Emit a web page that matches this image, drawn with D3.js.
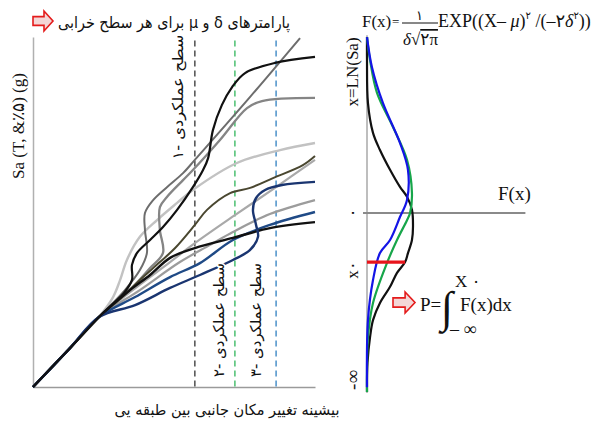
<!DOCTYPE html>
<html>
<head>
<meta charset="utf-8">
<script src="https://cdn.jsdelivr.net/npm/d3@7"></script>
<style>
  body { margin: 0; background: #fff; }
  text { font-family: "Liberation Serif", "DejaVu Sans", serif; fill: #111; }
  .fa { font-family: "DejaVu Sans", sans-serif; }
</style>
</head>
<body>
<svg id="chart" width="597" height="423"></svg>
<script>
// left panel: IDA-like curves, x = max interstory drift (0-100), y = Sa (0-100)
const blackHigh = [[0,0],[13.1,11.1],[23.4,20],[28.7,24],[32.3,26.9],[35.1,30.6],[35.1,34.9],[36.9,38.3],[41.5,42],[46.1,45.7],[51.1,50.6],[56.7,57.1],[60.3,62],[62.1,65.4],[63.8,73.4],[67,80.6],[70.6,85.7],[75.2,89.7],[85.8,92.6],[100,94.3]];
const grayTop = [[0,0],[13.1,11.1],[23.4,20],[32.6,27.7],[37.9,33.4],[40.4,38.3],[39.7,44.9],[39.7,49.7],[42.6,53.4],[47.5,57.1],[53.2,61.1],[57.4,64.9],[77,82.9],[94.7,99.7]];
const grayMid = [[0,0],[13.1,11.1],[23.4,20],[34.4,27.7],[41.5,34],[46.1,38.3],[45,44.9],[45,51.4],[47.5,54.3],[53.2,59.1],[56.7,62],[66.3,70.6],[75.9,79.7],[81.2,81.7],[100,82.6]];
const lightGray = [[0,0],[13.1,11.1],[23.4,20],[28.4,25.7],[30.9,30.6],[33.3,36.3],[37.9,42.9],[44,47.7],[51.1,52.6],[56.7,56.3],[72.3,64],[87.6,67.7],[100,69.7]];
const olive = [[0,0],[13.1,11.1],[23.4,20],[30.5,24.9],[37.9,30.6],[45,35.7],[50.4,39.7],[57.4,46.3],[61.7,50.6],[69.9,55.4],[77,56.9],[85.1,59.7],[95.7,63.4],[100,66]];
const grayUpper = [[0,0],[13.1,11.1],[23.4,20],[34.4,27.1],[48.6,35.7],[57.4,41.1],[71.6,49.1],[85.8,56.9],[100,64.9]];
const grayLow = [[0,0],[13.1,11.1],[23.4,20],[37.9,27.7],[52.1,35.7],[62.8,40.6],[70.9,44.3],[84,49.4],[100,53.4]];
const navyS = [[0,0],[13.1,11.1],[23.4,20],[36.2,23.4],[48.6,28.3],[59.2,32],[70.9,36.3],[76.9,39.1],[79.8,42.9],[79.1,46.3],[78,50.6],[79.1,54],[82.3,56.3],[88.3,57.7],[100,58.6]];
const navyLow = [[0,0],[13.1,11.1],[23.4,20],[36.2,25.7],[48.6,31.4],[59.2,35.4],[70.9,42],[84,46.3],[100,50]];
const blackLow = [[0,0],[13.1,11.1],[23.4,20],[34.4,27.7],[41.5,32],[48.6,36.9],[57.4,39.7],[70.9,42.6],[84,45.4],[100,47.1]];

// performance levels (drift values of the dashed lines)
const levels = [57.4, 71.6, 86.2];
const levelLabels = ["سطح عملکردی -۱", "سطح عملکردی -۲", "سطح عملکردی -۳"];

// right panel: normal densities, [F(x), x]
const bellBlack = [[0,3.91],[0,3.4],[0.006,2.44],[0.0375,1.78],[0.081,1.4],[0.144,0.96],[0.206,0.58],[0.25,0.36],[0.281,0.07],[0.2875,-0.3],[0.281,-0.6],[0.256,-0.89],[0.238,-1.09],[0.1875,-1.33],[0.144,-1.64],[0.081,-2.0],[0.0375,-2.38],[0.019,-2.76],[0.003,-3.33],[0,-3.98]];
const bellGreen = [[0,3.91],[0.019,3.4],[0.0625,2.67],[0.1625,1.91],[0.25,1.18],[0.281,0.44],[0.269,0],[0.25,-0.16],[0.1875,-0.6],[0.125,-1.11],[0.0375,-2.0],[0.006,-2.76],[0,-3.5],[0,-3.98]];
const bellBlue = [[0,3.91],[0.031,3.24],[0.1,2.44],[0.206,1.56],[0.256,0.96],[0.25,0.29],[0.206,-0.09],[0.144,-0.6],[0.081,-0.89],[0.0375,-1.49],[0.006,-2.38],[0,-3.87]];
const x0Value = -1.09, x0Density = 0.238;

const svg = d3.select("#chart");

const x = d3.scaleLinear().domain([0, 100]).range([33, 315]);
const y = d3.scaleLinear().domain([0, 100]).range([387, 37]);

// axes, no ticks
svg.append("g").attr("transform", "translate(0,387)")
  .call(d3.axisBottom(x).tickValues([]).tickSizeOuter(0))
  .select(".domain").attr("stroke", "#9a9a9a").attr("stroke-width", 1.5);
svg.append("g").attr("transform", "translate(33,0)")
  .call(d3.axisLeft(y).tickValues([]).tickSizeOuter(0))
  .select(".domain").attr("stroke", "#b0b0b0").attr("stroke-width", 1.5);

// dashed level lines
const levelColors = ["#333", "#2fb55a", "#2f7fc0"];
svg.selectAll(".level").data(levels).join("line")
  .attr("class", "level")
  .attr("x1", d => x(d)).attr("x2", d => x(d))
  .attr("y1", y(99)).attr("y2", y(0))
  .attr("stroke", (d, i) => levelColors[i])
  .attr("stroke-width", 1.3)
  .attr("stroke-dasharray", "6,4");

const curves = [
  { data: lightGray, color: "#c2c2c2", w: 2.4 },
  { data: grayUpper, color: "#a9a9a9", w: 2.2 },
  { data: grayLow, color: "#9c9c9c", w: 2.2 },
  { data: grayMid, color: "#858585", w: 2.3 },
  { data: grayTop, color: "#6d6d6d", w: 2 },
  { data: olive, color: "#4a4730", w: 2 },
  { data: navyLow, color: "#1f4a86", w: 2.4 },
  { data: blackLow, color: "#111", w: 2.4 },
  { data: navyS, color: "#1a3570", w: 2.4 },
  { data: blackHigh, color: "#111", w: 2.2 }
];

const line = d3.line()
  .x(d => x(d[0])).y(d => y(d[1]))
  .curve(d3.curveCatmullRom.alpha(0.5));

svg.selectAll(".ida").data(curves).join("path")
  .attr("class", "ida")
  .attr("d", d => line(d.data))
  .attr("fill", "none")
  .attr("stroke", d => d.color)
  .attr("stroke-width", d => d.w)
  .attr("stroke-linejoin", "round");

// level labels (rotated)
const labelPos = [[178, 97], [219, 320], [256, 320]];
const labelLen = [125, 114, 114];
levelLabels.forEach((t, i) => {
  svg.append("text")
    .attr("class", "fa")
    .attr("transform", `translate(${labelPos[i][0]},${labelPos[i][1]}) rotate(-90)`)
    .attr("direction", "rtl")
    .attr("text-anchor", "middle")
    .attr("dy", "0.35em")
    .attr("font-size", 15)
    .attr("textLength", labelLen[i])
    .attr("lengthAdjust", "spacingAndGlyphs")
    .attr("stroke", "#fff").attr("stroke-width", 3).attr("paint-order", "stroke")
    .text(t);
});

// axis titles
svg.append("text")
  .attr("transform", "translate(18,126) rotate(-90)")
  .attr("text-anchor", "middle").attr("dy", "0.35em")
  .attr("font-size", 17)
  .text("Sa (T, &٪۵) (g)");

svg.append("text")
  .attr("class", "fa")
  .attr("x", 227).attr("y", 415)
  .attr("direction", "rtl").attr("text-anchor", "middle")
  .attr("font-size", 15)
  .attr("textLength", 225).attr("lengthAdjust", "spacingAndGlyphs")
  .text("بیشینه تغییر مکان جانبی بین طبقه یی");

// title with arrow
function arrowPath(x0, y0, w, h) {
  const bx = x0 + w * 0.55;
  return `M${x0},${y0 + h * 0.28}H${bx}V${y0}L${x0 + w},${y0 + h / 2}L${bx},${y0 + h}V${y0 + h * 0.72}H${x0}Z`;
}
svg.append("path").attr("d", arrowPath(33, 11, 20, 20))
  .attr("fill", "#f3d6d6").attr("stroke", "#e41b1b").attr("stroke-width", 1.6);
svg.append("text")
  .attr("class", "fa")
  .attr("x", 174).attr("y", 28)
  .attr("direction", "rtl").attr("text-anchor", "middle")
  .attr("font-size", 16)
  .attr("textLength", 232).attr("lengthAdjust", "spacingAndGlyphs")
  .text("پارامترهای δ و μ برای هر سطح خرابی");

// ---- right panel ----
const xr = d3.scaleLinear().domain([0, 1]).range([367, 527]);
const yr = d3.scaleLinear().domain([-4, 4]).range([393, 33]);

svg.append("line")
  .attr("x1", xr(0)).attr("x2", xr(0)).attr("y1", yr(3.95)).attr("y2", yr(-4))
  .attr("stroke", "#a8a8a8").attr("stroke-width", 1.5);
svg.append("line")
  .attr("x1", xr(-0.025)).attr("x2", xr(0.99)).attr("y1", yr(0)).attr("y2", yr(0))
  .attr("stroke", "#8a8a8a").attr("stroke-width", 2);

const bell = d3.line()
  .x(d => xr(d[0])).y(d => yr(d[1]))
  .curve(d3.curveCatmullRom.alpha(0.5));

const bells = [
  { data: bellBlack, color: "#111" },
  { data: bellGreen, color: "#17a64a" },
  { data: bellBlue, color: "#1414e6" }
];
svg.selectAll(".bell").data(bells).join("path")
  .attr("class", "bell")
  .attr("d", d => bell(d.data))
  .attr("fill", "none")
  .attr("stroke", d => d.color)
  .attr("stroke-width", 2.2);

svg.append("line")
  .attr("x1", xr(0)).attr("x2", xr(x0Density))
  .attr("y1", yr(x0Value)).attr("y2", yr(x0Value))
  .attr("stroke", "#e8141b").attr("stroke-width", 3.2);

// right panel labels
const rotLabel = (t, cx, cy, size) => svg.append("text")
  .attr("transform", `translate(${cx},${cy}) rotate(-90)`)
  .attr("text-anchor", "middle").attr("dy", "0.35em")
  .attr("font-size", size).text(t);
rotLabel("x=LN(Sa)", 352, 72, 17);
rotLabel("۰", 352, 213, 17);
rotLabel("x۰", 352, 270, 17);
rotLabel("-∞", 352, 380, 19);

svg.append("text").attr("x", 498).attr("y", 200).attr("font-size", 19).text("F(x)");

// density formula
svg.append("text").attr("x", 362).attr("y", 27).attr("font-size", 17).text("F(x)");
svg.append("text").attr("x", 392).attr("y", 26).attr("font-size", 13).text("=");
svg.append("text").attr("x", 416).attr("y", 20).attr("font-size", 13).text("۱");
svg.append("line").attr("x1", 402).attr("x2", 438).attr("y1", 23).attr("y2", 23)
  .attr("stroke", "#111").attr("stroke-width", 1);
svg.append("text").attr("x", 403).attr("y", 45).attr("font-size", 17)
  .html('<tspan font-style="italic">δ</tspan>√<tspan text-decoration="overline">۲π</tspan>');
svg.append("text").attr("x", 438).attr("y", 27).attr("font-size", 18)
  .html('EXP((X– <tspan font-style="italic">μ</tspan>)<tspan dy="-8" font-size="10">۲</tspan><tspan dy="8"> /(–۲</tspan><tspan font-style="italic">δ</tspan><tspan dy="-8" font-size="10">۲</tspan><tspan dy="8">))</tspan>');

// probability integral
svg.append("path").attr("d", arrowPath(393, 292, 22, 21))
  .attr("fill", "#f3d6d6").attr("stroke", "#e41b1b").attr("stroke-width", 1.6);
svg.append("text").attr("x", 420).attr("y", 311).attr("font-size", 19).text("P=");
svg.append("text").attr("x", 441).attr("y", 322).attr("font-size", 44).text("∫");
svg.append("text").attr("x", 455).attr("y", 287).attr("font-size", 17).text("X ۰");
svg.append("text").attr("x", 460).attr("y", 311).attr("font-size", 19).text("F(x)dx");
svg.append("text").attr("x", 450).attr("y", 335).attr("font-size", 18).text("– ∞");
</script>
</body>
</html>
